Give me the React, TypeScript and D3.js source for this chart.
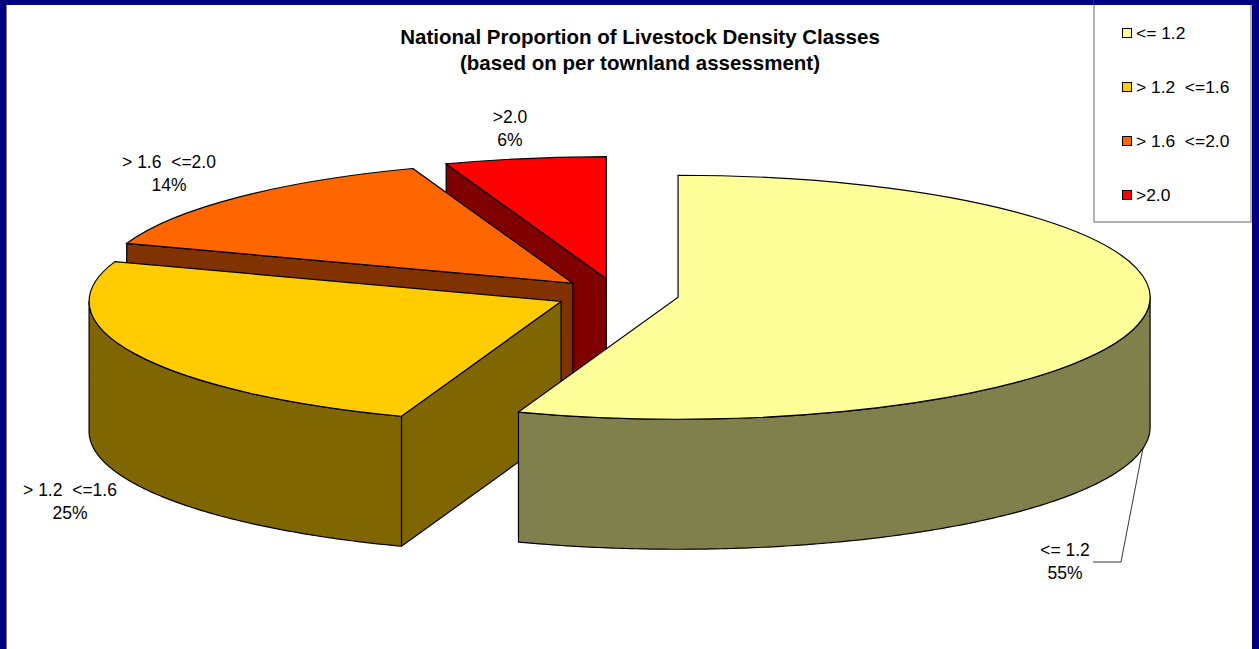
import * as d3 from 'd3';
import React from 'react';

// share of townlands per class
const categories = ['<= 1.2', '> 1.2  <=1.6', '> 1.6  <=2.0', '>2.0'];
const shares = [55.49, 24.8, 14.2, 5.51];
const topColors = ['#FFFF99', '#FFCC00', '#FF6600', '#FF0000'];
const wallColors = ['#80804D', '#806600', '#803300', '#800000'];
const titleLines = ['National Proportion of Livestock Density Classes', '(based on per townland assessment)'];

const width = 1259;
const height = 649;
const font = '"Liberation Sans", Arial, sans-serif';

// pie geometry
const cx = 617;
const cy = 294.5;
const rx = 472;
const ry = 122;
const depth = 130;
const explode = 62;
const squash = ry / rx;

const labelPos = [
    { x: 1065, y: 556 },
    { x: 70, y: 496 },
    { x: 169, y: 168 },
    { x: 510, y: 123 },
];

const pie = d3.pie<number>().sort(null).startAngle(0).endAngle(2 * Math.PI);
const arc = d3.arc<d3.PieArcDatum<number>>().innerRadius(0).outerRadius(rx);
const edge = d3.line();

const project = (a: number): [number, number] => [rx * Math.sin(a), -ry * Math.cos(a)];

// outer wall of a slice, only the part facing the viewer
const wallPath = (start: number, end: number) => {
    const a0 = Math.max(start, Math.PI / 2);
    const a1 = Math.min(end, (3 * Math.PI) / 2);
    if (a1 <= a0) return null;
    const angles = d3.range(a0, a1, 0.01).concat(a1);
    const upper = angles.map(project);
    const lower = upper.map(([x, y]) => [x, y + depth] as [number, number]).reverse();
    return edge([...upper, ...lower]) + 'Z';
};

// radial cut face, drawn down from the rim point to the apex
const facePath = (a: number) => {
    const [x, y] = project(a);
    return edge([[0, 0], [x, y], [x, y + depth], [0, depth]]) + 'Z';
};

export default function App() {
    const slices = pie(shares);

    return (
        <svg width={width} height={height} style={{ position: 'absolute', left: 0, top: 0, display: 'block' }}>
            <rect width={width} height={height} fill="#000080" />
            <rect x={6} y={5} width={1246} height={height} fill="#808080" />
            <rect x={7} y={5} width={1245} height={height} fill="#FFFFFF" />

            {/* back slices first, so front ones cover them */}
            {slices.map((s, i) => ({ s, i })).reverse().map(({ s, i }) => {
                const mid = (s.startAngle + s.endAngle) / 2;
                const ox = cx + explode * Math.sin(mid);
                const oy = cy - explode * squash * Math.cos(mid);
                const wall = wallPath(s.startAngle, s.endAngle);
                const showStart = Math.sin(s.startAngle) < -1e-6;
                const showEnd = Math.sin(s.endAngle) > 1e-6;
                const wallProps = { fill: wallColors[i], stroke: '#000', strokeWidth: 1.2, strokeLinejoin: 'round' as const };
                return (
                    <g key={categories[i]}>
                        <g transform={`translate(${ox},${oy})`}>
                            {showStart && <path d={facePath(s.startAngle)} {...wallProps} />}
                            {showEnd && <path d={facePath(s.endAngle)} {...wallProps} />}
                            {wall && <path d={wall} {...wallProps} />}
                        </g>
                        <g transform={`translate(${ox},${oy}) scale(1,${squash})`}>
                            <path d={arc(s) || ''} fill={topColors[i]} stroke="#000" strokeWidth={1.2} vectorEffect="non-scaling-stroke" />
                        </g>
                    </g>
                );
            })}

            <g fontFamily={font} fontSize={20.5} fontWeight="bold" textAnchor="middle" fill="#000">
                {titleLines.map((line, i) => (
                    <text key={line} x={640} y={44 + i * 26}>{line}</text>
                ))}
            </g>

            {/* data labels */}
            <g fontFamily={font} fontSize={17.5} textAnchor="middle" fill="#000">
                {categories.map((c, i) => (
                    <g key={c}>
                        <text x={labelPos[i].x} y={labelPos[i].y} xmlSpace="preserve" style={{ whiteSpace: 'pre' }}>{c}</text>
                        <text x={labelPos[i].x} y={labelPos[i].y + 23}>{d3.format('.0f')(shares[i])}%</text>
                    </g>
                ))}
            </g>
            <path d="M1143,448L1121,562L1093,562" fill="none" stroke="#000" strokeWidth={0.8} />

            {/* legend */}
            <rect x={1094} y={0} width={157} height={222} fill="#FFF" stroke="#666" strokeWidth={1} />
            <rect x={1094} y={0} width={158} height={5} fill="#000080" />
            {categories.map((c, i) => {
                const rowY = 33 + i * 54;
                return (
                    <g key={c}>
                        <rect x={1122.5} y={rowY - 4.5} width={9} height={9} fill={topColors[i]} stroke="#000" strokeWidth={1} />
                        <text x={1136} y={rowY + 6} fontFamily={font} fontSize={17.4} fill="#000" xmlSpace="preserve" style={{ whiteSpace: 'pre' }}>{c}</text>
                    </g>
                );
            })}
        </svg>
    );
}
